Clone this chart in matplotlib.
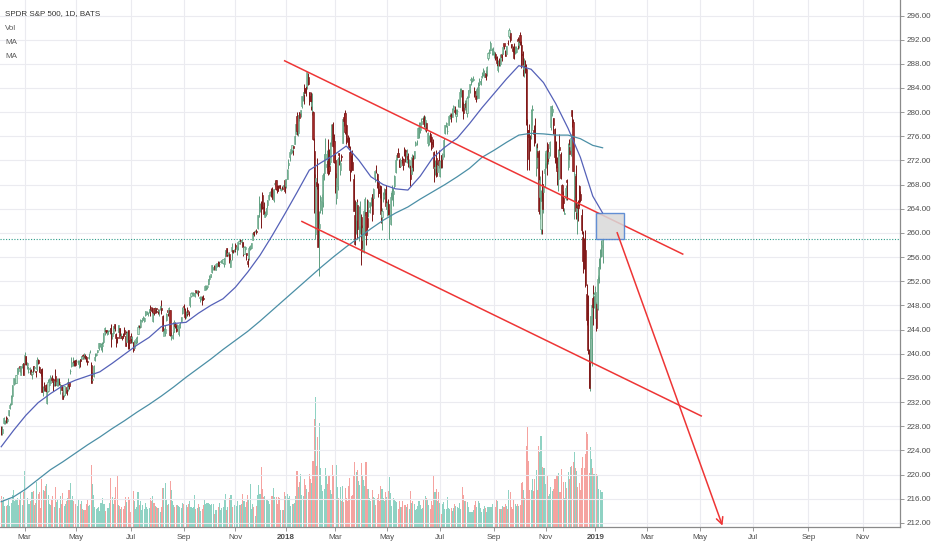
import numpy as np
import pandas as pd
import matplotlib
matplotlib.use("Agg")
import matplotlib.pyplot as plt
from matplotlib.patches import Rectangle

# SPY daily bars, 2017-02-01 .. 2019-01-10 (one line per month)
opens = [
    227.6, 226.8, 228.5, 228.9, 229.4, 228.9, 229.9, 231.0, 231.6, 233.0, 235.0, 235.6, 235.2, 236.7, 237.1, 237.9, 236.5, 237.9, 238.4,
    238.4, 239.6, 238.1, 237.5, 237.0, 237.3, 236.7, 237.9, 237.6, 237.2, 237.5, 239.0, 237.8, 237.0, 237.5, 233.8, 234.3, 234.8, 231.9, 233.9, 234.9, 235.1, 235.9,
    235.8, 235.0, 236.3, 234.9, 235.2, 235.4, 234.9, 234.8, 233.6, 233.1, 233.7, 234.5, 234.2, 235.3, 237.2, 237.9, 238.5, 238.8, 238.9,
    238.7, 238.8, 238.3, 239.1, 239.2, 239.8, 239.3, 239.6, 239.4, 238.8, 239.3, 240.3, 238.1, 235.7, 236.3, 238.9, 239.8, 240.3, 240.9, 241.2, 241.3, 241.2,
    241.9, 243.6, 243.9, 243.3, 243.7, 243.7, 244.3, 242.9, 243.4, 244.9, 243.3, 242.7, 243.6, 244.3, 242.6, 242.9, 243.2, 243.9, 243.0, 242.0, 243.9, 242.3,
    242.9, 242.6, 241.9, 241.0, 241.9, 242.3, 243.3, 244.6, 244.5, 245.4, 245.6, 245.4, 246.4, 246.5, 246.6, 247.1, 247.8, 247.3, 245.5, 247.5,
    247.4, 247.5, 247.0, 247.0, 247.5, 247.5, 246.3, 243.0, 243.5, 245.6, 247.2, 246.8, 247.3, 242.7, 242.6, 243.6, 245.0, 244.1, 244.2, 243.3, 244.4, 245.4, 246.7,
    247.9, 247.3, 246.8, 247.3, 246.8, 248.0, 249.6, 250.1, 249.7, 249.6, 250.5, 250.3, 250.4, 249.3, 249.3, 249.1, 249.3, 250.6, 251.0, 251.0,
    251.5, 252.3, 252.7, 253.5, 254.1, 254.6, 253.9, 254.6, 255.2, 254.9, 255.2, 255.3, 255.0, 254.8, 256.7, 257.5, 256.5, 256.5, 254.4, 257.0, 257.1, 257.2,
    258.0, 257.4, 257.7, 258.3, 258.8, 258.5, 258.5, 256.5, 257.3, 256.6, 255.3, 255.9, 257.5, 257.5, 258.9, 260.2, 260.3, 260.4, 260.8, 262.6, 264.8,
    264.8, 266.3, 264.3, 262.7, 263.2, 264.6, 265.6, 266.3, 266.9, 267.1, 265.5, 268.1, 268.7, 267.6, 267.7, 267.9, 267.1, 267.4, 267.6, 268.8,
    267.8, 268.9, 271.2, 272.5, 273.3, 273.7, 274.4, 274.8, 276.4, 279.4, 276.6, 280.1, 279.8, 281.0, 283.0, 284.0, 284.0, 284.3, 285.9, 283.4, 282.7,
    281.1, 280.1, 273.5, 259.9, 268.5, 267.5, 260.8, 263.8, 263.9, 265.1, 270.0, 272.3, 271.0, 271.9, 271.1, 271.8, 275.5, 278.1, 275.2,
    272.0, 265.8, 267.7, 273.3, 270.4, 272.8, 274.9, 279.2, 279.9, 277.8, 275.8, 275.6, 273.4, 271.6, 271.7, 268.9, 263.0, 262.1, 264.6, 260.8, 261.1,
    262.6, 258.9, 256.8, 262.9, 263.4, 262.4, 264.3, 263.5, 265.2, 266.5, 265.8, 269.3, 270.5, 269.8, 268.6, 267.3, 267.8, 262.6, 265.9, 266.5, 267.3,
    263.9, 264.8, 262.3, 261.5, 266.9, 266.5, 267.7, 270.1, 272.3, 273.3, 271.9, 271.1, 272.1, 272.3, 273.5, 273.7, 271.7, 272.7, 271.2, 270.5, 269.7, 272.4,
    272.4, 274.5, 275.0, 275.8, 277.4, 277.0, 278.0, 278.8, 279.0, 277.5, 278.2, 274.9, 274.8, 276.4, 275.9, 275.0, 273.4, 270.8, 272.4, 270.1, 272.1,
    269.5, 272.9, 272.3, 273.0, 276.6, 278.0, 276.9, 277.8, 279.2, 279.6, 279.2, 280.6, 280.3, 279.4, 280.2, 281.1, 280.9, 283.2, 283.7, 281.4, 280.8,
    281.5, 279.8, 282.5, 283.6, 285.4, 285.4, 285.4, 283.5, 283.5, 282.9, 282.4, 284.7, 285.0, 285.9, 286.3, 285.9, 286.4, 286.4, 288.9, 289.8, 290.3, 290.3, 289.8,
    289.8, 289.7, 289.1, 286.9, 288.7, 287.9, 289.6, 289.7, 291.4, 290.1, 289.6, 291.5, 292.6, 293.1, 291.3, 290.6, 290.5, 290.2, 289.9,
    292.1, 291.2, 292.7, 291.2, 289.7, 287.1, 287.7, 287.1, 277.1, 277.1, 275.6, 277.1, 280.4, 277.0, 277.1, 270.9, 273.5, 273.3, 265.9, 260.7, 268.1, 266.8, 269.9,
    271.6, 274.8, 272.4, 274.1, 277.6, 280.1, 279.0, 277.2, 273.1, 271.0, 268.9, 274.2, 273.0, 267.9, 265.8, 263.2, 265.8, 268.8, 270.9, 274.3, 273.8,
    280.3, 278.4, 265.9, 269.5, 263.4, 264.7, 267.7, 266.5, 262.9, 259.4, 257.2, 257.2, 249.9, 246.7, 239.0, 238.7, 242.6, 249.3, 249.6,
    245.9, 248.2, 247.6, 252.7, 256.8, 257.6, 256.1,
]
highs = [
    228.1, 228.0, 229.6, 229.1, 229.7, 229.5, 230.7, 231.8, 233.1, 234.9, 236.0, 235.9, 236.4, 237.7, 237.8, 238.0, 238.0, 238.3, 238.4,
    240.3, 239.6, 238.6, 237.9, 237.8, 237.4, 237.2, 238.0, 237.9, 237.2, 239.4, 239.2, 237.9, 237.4, 237.6, 234.6, 235.3, 235.0, 233.9, 235.8, 236.0, 236.5, 236.4,
    236.0, 235.6, 237.4, 236.0, 236.0, 236.0, 235.2, 234.9, 234.0, 234.6, 234.5, 234.7, 235.9, 235.3, 237.4, 239.5, 239.5, 238.9, 238.9,
    239.2, 238.9, 238.9, 239.1, 239.7, 239.9, 240.2, 239.9, 239.6, 238.9, 240.1, 240.7, 238.7, 237.0, 238.2, 240.2, 240.2, 240.7, 241.7, 241.7, 241.7, 241.9,
    243.4, 244.4, 244.0, 243.9, 243.9, 244.3, 245.0, 243.4, 244.6, 245.0, 243.4, 242.6, 244.7, 244.3, 243.4, 243.0, 243.5, 244.4, 243.7, 243.7, 243.9, 242.3,
    243.4, 243.0, 242.0, 242.3, 242.8, 243.0, 244.7, 244.8, 245.7, 245.9, 246.2, 246.0, 247.1, 247.0, 246.9, 247.4, 248.0, 247.8, 246.8, 247.6,
    247.8, 247.6, 247.4, 247.4, 247.9, 248.9, 246.4, 244.3, 244.8, 246.8, 247.3, 247.8, 247.3, 243.6, 243.8, 245.6, 245.2, 244.7, 245.0, 244.9, 245.2, 246.1, 247.8,
    248.3, 247.5, 247.0, 247.7, 247.0, 249.4, 250.2, 250.3, 250.2, 250.2, 250.4, 250.6, 250.6, 249.5, 249.6, 249.6, 249.7, 251.4, 251.3, 251.3,
    252.3, 253.0, 253.2, 254.7, 254.4, 254.7, 254.9, 255.1, 255.3, 255.3, 255.5, 255.5, 255.7, 255.8, 257.1, 257.5, 256.8, 256.8, 255.8, 258.4, 257.2, 257.4,
    258.4, 257.8, 258.5, 258.9, 259.0, 259.0, 258.5, 257.8, 257.9, 256.6, 255.8, 257.8, 258.0, 258.4, 260.2, 260.3, 260.5, 260.6, 263.0, 266.1, 264.9,
    265.3, 266.8, 265.1, 263.6, 264.1, 265.5, 266.4, 266.9, 267.4, 267.6, 267.3, 268.6, 268.8, 267.9, 268.0, 268.0, 267.4, 267.7, 268.0, 268.8,
    269.0, 270.6, 272.2, 273.6, 274.1, 274.6, 274.4, 276.2, 278.1, 280.1, 279.6, 280.1, 280.4, 282.7, 283.3, 284.7, 284.3, 286.6, 286.4, 283.4, 283.3,
    283.1, 280.2, 275.8, 269.7, 272.4, 268.2, 263.6, 266.2, 266.4, 269.9, 273.1, 275.7, 273.7, 275.6, 273.9, 275.0, 278.0, 278.4, 276.3,
    273.2, 270.0, 272.6, 273.2, 272.0, 273.1, 278.9, 279.9, 280.4, 278.0, 276.2, 275.9, 274.4, 272.9, 273.7, 269.7, 265.4, 265.2, 265.7, 264.4, 265.3,
    263.1, 261.3, 264.0, 266.0, 263.4, 265.6, 265.4, 265.1, 266.0, 266.5, 267.4, 270.3, 271.3, 270.0, 269.0, 268.0, 267.8, 264.1, 266.8, 267.4, 267.9,
    265.3, 265.7, 264.0, 266.7, 268.0, 267.4, 269.6, 272.4, 273.2, 274.0, 272.2, 272.4, 272.8, 272.4, 274.2, 273.9, 273.9, 273.3, 272.2, 271.3, 273.1, 272.9,
    273.6, 275.2, 275.4, 277.5, 278.3, 278.3, 279.0, 279.4, 279.5, 279.3, 278.3, 276.7, 276.2, 276.7, 276.0, 275.6, 273.5, 272.0, 273.7, 271.8, 273.7,
    272.0, 272.9, 273.2, 275.8, 277.9, 278.3, 277.9, 279.4, 279.8, 279.8, 280.7, 281.2, 281.0, 280.6, 280.5, 282.1, 284.0, 284.0, 283.7, 281.7, 282.0,
    282.0, 282.6, 283.7, 284.7, 285.8, 285.6, 286.0, 284.2, 283.7, 284.2, 285.0, 285.6, 285.6, 286.6, 287.3, 287.0, 286.9, 287.7, 289.9, 290.4, 291.7, 290.6, 290.8,
    290.2, 289.9, 289.3, 288.6, 289.0, 289.6, 289.8, 291.0, 291.3, 290.3, 291.0, 292.0, 293.9, 293.2, 291.3, 291.0, 291.4, 291.0, 291.0,
    292.4, 292.3, 293.2, 291.7, 290.2, 288.9, 288.6, 288.0, 278.9, 278.0, 276.2, 280.6, 281.2, 277.9, 279.1, 274.8, 274.9, 273.8, 269.5, 267.1, 270.4, 268.1, 273.2,
    273.7, 275.0, 274.0, 275.3, 281.1, 281.2, 279.0, 277.4, 275.3, 272.5, 273.9, 276.3, 273.4, 268.1, 267.0, 264.1, 267.9, 269.0, 274.9, 275.6, 276.3,
    280.4, 278.9, 270.3, 271.2, 265.2, 265.5, 267.9, 266.9, 264.0, 260.4, 259.1, 260.5, 251.6, 249.7, 240.8, 246.2, 248.3, 251.4, 250.2,
    251.2, 248.6, 253.1, 255.9, 257.3, 258.9, 259.2,
]
lows = [
    226.5, 226.6, 228.4, 228.3, 228.6, 228.5, 229.7, 230.8, 231.5, 232.6, 234.9, 235.0, 235.2, 236.6, 236.8, 236.9, 236.4, 237.7, 236.4,
    238.2, 238.1, 237.5, 236.8, 236.8, 236.4, 235.8, 236.8, 237.2, 236.1, 237.1, 238.3, 236.9, 236.3, 233.6, 233.0, 233.8, 233.6, 231.6, 233.7, 234.7, 235.1, 235.6,
    233.9, 234.7, 234.6, 234.6, 234.6, 234.9, 233.4, 233.8, 232.5, 232.9, 233.1, 233.1, 233.8, 234.1, 236.7, 237.8, 237.9, 237.9, 237.9,
    238.3, 238.3, 237.7, 237.8, 238.8, 239.2, 239.2, 239.1, 238.7, 238.2, 239.2, 240.1, 235.1, 235.4, 236.2, 238.8, 239.6, 240.1, 240.6, 241.1, 240.6, 240.3,
    241.6, 243.1, 243.4, 243.1, 243.3, 243.2, 241.1, 242.4, 243.3, 243.8, 241.1, 241.7, 243.6, 242.6, 242.6, 242.2, 242.6, 243.1, 241.2, 242.0, 240.8, 240.8,
    241.7, 241.7, 240.3, 240.9, 241.6, 241.7, 243.3, 244.1, 244.3, 245.3, 245.6, 245.3, 246.3, 246.5, 246.2, 246.7, 246.2, 246.8, 245.3, 246.4,
    246.8, 246.7, 246.6, 246.2, 247.2, 246.6, 243.7, 243.4, 242.9, 245.5, 246.2, 246.7, 243.0, 242.3, 242.4, 243.6, 244.2, 243.6, 244.0, 243.0, 244.3, 245.2, 246.6,
    247.3, 245.8, 245.9, 246.2, 246.2, 247.8, 249.4, 249.8, 249.5, 249.4, 250.0, 249.9, 249.5, 248.6, 248.9, 248.1, 248.9, 250.6, 250.5, 250.8,
    251.3, 252.1, 252.7, 253.4, 253.8, 253.8, 253.8, 254.3, 254.6, 254.4, 255.0, 255.0, 254.8, 254.3, 256.0, 256.1, 256.2, 255.1, 254.3, 255.5, 256.6, 256.9,
    256.8, 256.4, 257.1, 258.2, 258.2, 257.9, 256.2, 256.5, 257.0, 255.6, 254.3, 255.6, 257.1, 257.4, 258.8, 259.5, 260.1, 259.9, 260.6, 262.6, 263.5,
    260.8, 264.0, 263.0, 262.7, 262.8, 264.2, 265.4, 266.1, 266.0, 265.6, 265.2, 267.8, 267.1, 266.6, 267.0, 267.3, 266.9, 267.3, 267.6, 266.6,
    267.4, 268.9, 270.6, 271.9, 273.1, 273.3, 272.9, 274.7, 276.4, 276.2, 276.0, 278.6, 279.2, 280.7, 281.9, 281.3, 282.7, 283.9, 284.5, 281.2, 280.3,
    279.6, 275.4, 263.3, 259.0, 267.2, 257.6, 252.9, 263.3, 263.2, 264.3, 268.8, 272.2, 270.5, 269.6, 269.7, 271.3, 274.4, 274.3, 271.6,
    266.6, 264.8, 267.1, 271.2, 269.6, 271.9, 274.9, 277.7, 276.3, 274.7, 274.6, 274.1, 268.6, 270.1, 270.4, 263.7, 258.0, 259.8, 259.0, 258.6, 259.9,
    254.7, 256.8, 256.6, 262.9, 258.0, 260.6, 262.6, 263.3, 264.4, 262.0, 265.7, 268.4, 270.0, 267.4, 265.9, 265.8, 261.6, 260.5, 265.1, 265.6, 264.0,
    262.8, 262.9, 259.0, 261.3, 265.5, 264.5, 267.4, 270.0, 272.0, 272.5, 270.9, 271.0, 271.5, 270.4, 272.7, 271.8, 271.5, 270.9, 270.7, 267.8, 269.7, 270.2,
    272.2, 274.4, 274.6, 275.8, 275.7, 276.5, 277.8, 278.6, 277.6, 276.9, 276.7, 274.4, 274.6, 275.1, 273.8, 274.2, 268.5, 269.6, 269.2, 269.6, 270.7,
    269.2, 270.7, 270.7, 272.6, 276.4, 277.6, 276.4, 277.8, 278.9, 278.4, 279.2, 280.3, 279.6, 278.4, 279.4, 280.9, 280.8, 282.5, 280.2, 278.9, 280.4,
    279.9, 279.2, 282.4, 283.2, 284.5, 285.0, 285.1, 282.5, 281.6, 282.2, 282.4, 284.3, 284.5, 285.7, 286.0, 285.8, 285.4, 286.0, 288.7, 289.3, 290.2, 289.4, 289.5,
    288.9, 288.7, 287.7, 286.7, 287.7, 287.6, 288.5, 289.6, 290.4, 289.3, 289.6, 291.1, 292.2, 291.6, 290.6, 290.0, 288.8, 289.6, 289.8,
    290.5, 290.6, 291.1, 287.3, 286.0, 285.8, 286.4, 277.9, 270.4, 270.4, 273.6, 275.6, 277.9, 274.4, 274.9, 269.4, 270.8, 263.2, 262.3, 259.9, 259.8, 263.3, 267.6,
    270.7, 269.6, 271.4, 272.7, 277.1, 279.3, 276.3, 271.5, 270.8, 268.0, 267.0, 272.8, 268.9, 264.1, 263.7, 263.1, 265.4, 265.4, 270.4, 272.0, 272.7,
    277.5, 270.2, 262.3, 262.3, 259.9, 262.0, 264.4, 265.1, 259.9, 253.4, 254.0, 251.1, 244.7, 239.9, 234.3, 233.8, 238.0, 244.7, 247.5,
    245.9, 243.7, 247.2, 251.7, 254.0, 256.0, 255.1,
]
closes = [
    227.5, 227.6, 229.3, 228.9, 228.9, 229.2, 230.6, 231.5, 233.0, 234.9, 236.0, 235.8, 236.4, 237.7, 237.5, 237.6, 238.0, 238.3, 236.5,
    239.8, 238.3, 238.4, 237.7, 237.0, 236.6, 236.9, 237.7, 237.8, 237.0, 238.9, 238.5, 237.0, 236.8, 233.7, 234.3, 234.0, 233.9, 233.6, 235.3, 235.5, 236.2, 235.7,
    235.3, 235.5, 234.8, 235.4, 235.2, 235.3, 234.9, 234.0, 232.5, 234.6, 233.9, 233.5, 235.3, 234.6, 237.2, 238.6, 238.5, 238.6, 238.1,
    238.7, 238.8, 238.5, 238.8, 239.7, 239.7, 239.7, 239.4, 238.9, 238.6, 239.4, 240.3, 235.1, 235.8, 237.9, 239.5, 240.0, 240.6, 241.7, 241.7, 241.5, 241.4,
    243.4, 244.2, 243.8, 243.4, 243.8, 243.9, 243.4, 243.4, 244.6, 244.2, 242.6, 242.6, 244.7, 242.6, 242.9, 242.6, 242.9, 243.3, 241.3, 243.5, 241.4, 241.8,
    242.2, 242.8, 240.6, 242.1, 242.4, 242.6, 244.4, 244.4, 245.6, 245.6, 245.9, 245.9, 247.1, 246.9, 246.8, 247.4, 247.3, 247.0, 246.7, 246.8,
    247.4, 247.4, 246.9, 247.3, 247.9, 247.3, 243.8, 243.8, 244.1, 246.5, 246.9, 247.6, 243.1, 242.7, 243.1, 245.2, 244.6, 243.8, 244.6, 244.8, 245.0, 246.0, 247.5,
    247.8, 246.1, 246.9, 246.9, 246.6, 249.4, 250.1, 250.1, 250.1, 250.1, 250.3, 250.4, 250.3, 249.4, 249.4, 248.9, 249.1, 251.2, 251.2, 251.2,
    252.3, 252.9, 253.2, 254.7, 254.4, 254.0, 254.9, 255.0, 254.6, 254.9, 255.3, 255.5, 255.7, 255.8, 257.1, 256.1, 256.6, 255.3, 255.6, 257.7, 256.8, 257.2,
    257.5, 257.6, 258.5, 258.7, 258.7, 258.9, 257.7, 257.7, 257.6, 256.4, 254.8, 257.5, 257.9, 258.3, 260.0, 259.8, 260.4, 260.2, 262.9, 262.7, 264.8,
    264.5, 264.1, 263.2, 263.1, 264.1, 265.5, 266.3, 266.8, 266.5, 265.7, 267.2, 268.2, 267.2, 267.0, 267.6, 267.5, 267.2, 267.3, 267.9, 266.9,
    269.0, 270.5, 271.6, 273.4, 273.9, 274.6, 274.1, 276.1, 278.0, 276.9, 279.6, 279.1, 280.4, 282.7, 283.3, 283.2, 283.3, 286.6, 284.7, 281.8, 281.9,
    281.6, 275.5, 263.9, 269.1, 267.7, 257.6, 261.5, 265.3, 266.0, 269.6, 273.0, 273.1, 271.4, 269.9, 270.2, 274.7, 277.9, 274.4, 271.7,
    267.7, 269.1, 272.2, 272.9, 271.6, 272.6, 278.9, 278.5, 276.7, 275.3, 275.0, 274.2, 270.5, 270.9, 270.4, 263.7, 258.1, 265.1, 260.6, 260.8, 263.2,
    257.5, 260.8, 263.6, 265.6, 259.7, 261.0, 265.2, 263.8, 265.2, 263.1, 267.3, 270.2, 270.4, 268.9, 266.6, 266.6, 263.2, 263.6, 266.3, 266.6, 264.5,
    265.0, 263.2, 262.6, 266.0, 266.9, 266.9, 269.5, 272.0, 272.9, 272.6, 270.9, 272.0, 272.0, 271.3, 273.4, 272.5, 273.4, 272.2, 272.0, 269.0, 272.6, 270.9,
    273.6, 274.9, 275.1, 277.4, 277.4, 278.2, 278.6, 279.1, 278.0, 278.7, 277.1, 276.6, 275.5, 275.5, 274.0, 274.7, 270.7, 271.0, 269.4, 271.3, 271.3,
    271.9, 270.9, 273.1, 275.4, 277.9, 278.2, 276.9, 279.3, 279.6, 279.3, 280.5, 281.1, 280.0, 279.7, 280.2, 281.1, 283.3, 283.2, 281.4, 279.9, 281.3,
    280.9, 282.4, 283.6, 284.6, 285.5, 285.5, 285.5, 283.2, 282.1, 283.9, 284.1, 285.1, 285.1, 286.0, 286.6, 286.2, 285.8, 287.5, 289.8, 289.9, 291.4, 290.3, 290.3,
    289.8, 289.0, 288.2, 287.6, 288.1, 289.1, 289.1, 290.8, 290.9, 289.3, 290.9, 291.4, 293.6, 291.9, 290.8, 290.1, 289.0, 290.7, 290.7,
    291.7, 291.7, 291.6, 289.4, 287.8, 287.8, 287.4, 278.3, 272.2, 275.9, 274.4, 280.4, 280.5, 276.4, 276.3, 274.0, 272.6, 263.6, 268.8, 265.3, 263.9, 267.8, 270.6,
    273.5, 271.9, 273.4, 275.1, 281.0, 280.5, 277.8, 272.6, 272.1, 270.2, 273.7, 273.7, 269.1, 264.1, 265.0, 263.3, 267.5, 268.4, 274.6, 273.0, 275.7,
    279.3, 270.3, 269.8, 263.6, 264.1, 264.1, 265.4, 265.5, 260.5, 255.4, 255.8, 251.3, 245.6, 240.7, 234.3, 246.2, 248.1, 247.8, 249.9,
    250.2, 244.2, 252.4, 254.4, 256.8, 258.0, 259.0,
]
volumes = [  # millions of shares
    86, 70, 82, 57, 58, 60, 78, 58, 66, 88, 100, 72, 73, 80, 60, 76, 92, 60, 96,
    152, 86, 78, 64, 62, 70, 96, 98, 60, 66, 122, 90, 96, 52, 130, 100, 98, 112, 118, 88, 62, 60, 76,
    84, 54, 110, 68, 74, 52, 84, 64, 94, 58, 62, 70, 80, 102, 120, 76, 84, 72, 64,
    48, 58, 74, 62, 70, 48, 46, 46, 62, 74, 58, 60, 170, 118, 88, 56, 50, 52, 56, 44, 66, 80,
    64, 64, 44, 52, 52, 66, 134, 82, 64, 78, 110, 140, 60, 58, 50, 56, 48, 58, 82, 68, 82, 74,
    40, 62, 98, 72, 48, 56, 96, 60, 70, 46, 60, 50, 66, 56, 50, 52, 78, 72, 86, 66,
    58, 56, 52, 52, 40, 56, 106, 106, 120, 74, 60, 62, 126, 100, 70, 60, 54, 60, 60, 58, 54, 52, 66,
    62, 88, 60, 56, 64, 70, 56, 52, 54, 88, 50, 52, 62, 56, 44, 50, 60, 76, 62, 66,
    66, 62, 60, 64, 64, 36, 46, 46, 54, 66, 46, 52, 56, 76, 90, 46, 54, 78, 88, 88, 54, 60,
    80, 58, 70, 60, 60, 64, 90, 70, 56, 68, 88, 74, 118, 50, 62, 54, 30, 58, 88, 116, 90,
    164, 104, 82, 86, 74, 74, 70, 62, 86, 84, 106, 82, 82, 64, 82, 78, 46, 46, 46, 96,
    86, 90, 80, 84, 58, 62, 62, 66, 84, 152, 108, 124, 146, 88, 86, 130, 114, 104, 96, 144, 132,
    120, 180, 295, 355, 168, 246, 284, 160, 114, 98, 104, 160, 140, 118, 140, 100, 90, 170, 140,
    190, 170, 108, 80, 110, 70, 112, 68, 106, 78, 70, 112, 134, 84, 88, 140, 178, 150, 156, 126, 114,
    176, 140, 128, 112, 178, 104, 104, 78, 70, 100, 82, 80, 60, 80, 90, 70, 112, 104, 80, 70, 96,
    82, 98, 136, 92, 58, 78, 76, 72, 68, 50, 70, 56, 54, 70, 60, 60, 56, 64, 50, 98, 66, 72,
    62, 46, 50, 58, 70, 60, 50, 52, 76, 86, 80, 74, 60, 48, 72, 60, 138, 96, 104, 70, 96,
    66, 36, 62, 68, 50, 48, 82, 52, 48, 52, 44, 52, 64, 58, 56, 52, 66, 48, 108, 88, 72,
    72, 68, 54, 40, 42, 40, 46, 60, 70, 56, 72, 66, 52, 42, 48, 58, 52, 42, 56, 54, 56, 54, 64,
    58, 56, 74, 72, 50, 50, 50, 58, 54, 64, 58, 48, 100, 96, 54, 48, 76, 62, 58,
    62, 58, 60, 120, 124, 100, 80, 220, 274, 180, 102, 100, 132, 98, 130, 156, 100, 220, 204, 250, 164, 160, 160,
    118, 140, 86, 90, 110, 98, 104, 130, 130, 138, 148, 96, 96, 158, 122, 80, 124, 106, 150, 130, 164,
    166, 178, 204, 162, 152, 110, 120, 100, 160, 190, 160, 200, 260, 254, 148, 218, 186, 162, 144,
    126, 144, 142, 104, 100, 96, 96,
]

# moving averages every 10 bars (plus the last bar)
ma_bars = list(range(0, 481, 10)) + [488]
ma_fast = [
    224.6, 227.3, 229.8, 231.9, 233.4, 234.7, 235.6, 236.3, 237.0, 238.4,
    239.9, 241.4, 242.7, 244.5, 245.0, 245.2, 246.7, 248.0, 249.1, 251.0,
    253.5, 256.3, 259.6, 263.1, 266.7, 270.4, 271.7, 272.9, 274.4, 272.1,
    269.3, 268.0, 267.3, 267.1, 269.4, 272.4, 274.2, 275.7, 278.1, 280.7,
    283.1, 285.5, 287.7, 287.1, 284.9, 281.4, 277.3, 272.5, 266.1, 263.3,
]
ma_slow = [
    215.5, 216.3, 217.6, 219.2, 220.8, 222.1, 223.5, 224.9, 226.2, 227.6,
    228.9, 230.3, 231.6, 233.0, 234.5, 236.1, 237.6, 239.1, 240.7, 242.2,
    243.7, 245.4, 247.2, 249.0, 250.8, 252.6, 254.4, 256.1, 257.7, 259.2,
    260.7, 262.1, 263.3, 264.3, 265.6, 266.8, 268.0, 269.3, 270.7, 272.5,
    273.7, 275.0, 276.2, 276.5, 276.4, 276.2, 276.2, 275.6, 274.5, 274.1,
]

# NYSE holidays inside the data range
holidays = ["2017-02-20", "2017-04-14", "2017-05-29", "2017-07-04", "2017-09-04",
            "2017-11-23", "2017-12-25", "2018-01-01", "2018-01-15", "2018-02-19",
            "2018-03-30", "2018-05-28", "2018-07-04", "2018-09-03", "2018-11-22",
            "2018-12-05", "2018-12-25", "2019-01-01"]

# drawings on the chart: (date, price)
upper_channel = [("2017-12-29", 288.5), ("2019-04-11", 256.5)]
lower_channel = [("2018-01-22", 261.9), ("2019-05-02", 229.7)]
target_box = [("2019-01-03", 263.35), ("2019-02-04", 259.05)]
down_arrow = [("2019-01-25", 260.5), ("2019-05-28", 211.1)]

# trading days, future part of the axis just weekdays (like TradingView does)
hist = pd.bdate_range("2017-02-01", "2019-01-10")
hist = hist[~hist.isin(pd.to_datetime(holidays))]
days = hist.append(pd.bdate_range("2019-01-11", "2019-12-31"))


def bar(date):
    return days.get_loc(pd.Timestamp(date))


o = np.array(opens)
h = np.array(highs)
l = np.array(lows)
c = np.array(closes)
v = np.array(volumes)
x = np.arange(len(c))
up = c >= o

fig = plt.figure(figsize=(9.32, 5.5), dpi=100)
rect = [0, 23 / 550, 900 / 932, 527 / 550]
axv = fig.add_axes(rect)
ax = fig.add_axes(rect, sharex=axv)
ax.patch.set_alpha(0)

# volume
vol_colors = np.where(up, "#8fd2c3", "#f5a3a0")
axv.bar(x, v, width=0.85, color=vol_colors, linewidth=0)
axv.set_ylim(0, 1440)
axv.axis("off")

# grid
ax.set_axisbelow(True)
ax.grid(True, color="#ebebf0", linewidth=0.8)

# candles
wick_col = np.where(up, "#5f9f80", "#7a1616")
body_col = np.where(up, "#bfe5d0", "#a32827")
ax.vlines(x, l, h, colors=wick_col, linewidth=0.7, zorder=3)
ax.bar(x, c - o, bottom=o, width=0.9, color=body_col, edgecolor=wick_col,
       linewidth=0.45, zorder=4)

# moving averages
ax.plot(ma_bars, ma_fast, color="#5561b8", linewidth=0.9, zorder=5)
ax.plot(ma_bars, ma_slow, color="#4b8fa6", linewidth=0.9, zorder=5)

# last price
ax.axhline(c[-1], color="#2e9c8a", linewidth=0.8, linestyle=(0, (1, 1.5)), zorder=2)

# channel, box and arrow
red = "#ee3535"
for line in (upper_channel, lower_channel):
    ax.plot([bar(line[0][0]), bar(line[1][0])], [line[0][1], line[1][1]],
            color=red, linewidth=1.1, zorder=6)
(d0, p0), (d1, p1) = target_box
ax.add_patch(Rectangle((bar(d0), p1), bar(d1) - bar(d0), p0 - p1,
                       facecolor="#d9d9d9", edgecolor="#4a7fd0", linewidth=1.0,
                       alpha=0.85, zorder=7))
(a0, q0), (a1, q1) = down_arrow
ax.annotate("", xy=(bar(a1), q1), xytext=(bar(a0), q0),
            arrowprops=dict(arrowstyle="->", color=red, lw=1.1, mutation_scale=12),
            zorder=8, annotation_clip=False)

# axes
ax.set_xlim(-0.97, 729.3)
ax.set_ylim(211.31, 298.57)

month_first = pd.Series(np.arange(len(days)), index=days).groupby(
    [days.year, days.month]).first()
ticks, labels = [], []
for (yr, mo), idx in month_first.items():
    if mo % 2 == 1 and idx > 0:
        ticks.append(idx)
        labels.append(str(yr) if mo == 1 else days[idx].strftime("%b"))
ax.set_xticks(ticks)
ax.set_xticklabels(labels)
for t, lab in zip(ax.get_xticklabels(), labels):
    if lab.isdigit():
        t.set_fontweight("bold")

yt = np.arange(212, 297, 4)
ax.set_yticks(yt)
ax.set_yticklabels([f"{p:.2f}" for p in yt])
ax.yaxis.tick_right()

for lab in ax.get_xticklabels() + ax.get_yticklabels():
    lab.set_fontfamily("Liberation Sans")
    lab.set_fontsize(5.8)
    lab.set_color("#4d4d4d")
ax.tick_params(axis="x", length=3, width=0.6, pad=2, color="#888888")
ax.tick_params(axis="y", length=3, width=0.6, pad=2, color="#888888")

for side in ("top", "left"):
    ax.spines[side].set_visible(False)
for side in ("bottom", "right"):
    ax.spines[side].set_color("#8a8a8a")
    ax.spines[side].set_linewidth(0.9)

# legend text, top left
fig.text(5 / 932, 1 - 14 / 550, "SPDR S&P 500, 1D, BATS", fontsize=5.8,
         family="Liberation Sans", color="#333333", va="center")
for k, name in enumerate(["Vol", "MA", "MA"]):
    fig.text(5 / 932, 1 - (28.5 + 14 * k) / 550, name, fontsize=5.8,
             family="Liberation Sans", color="#5a5a5a", va="center")

fig.savefig("out.png", dpi=100)
